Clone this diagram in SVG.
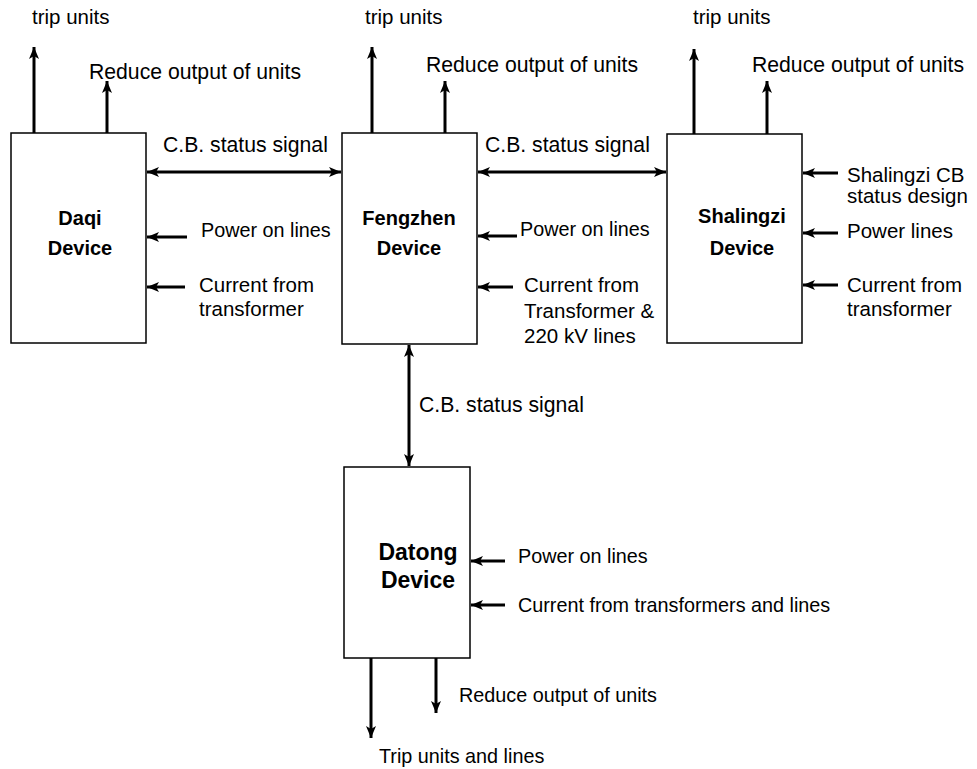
<svg xmlns="http://www.w3.org/2000/svg" width="977" height="769" viewBox="0 0 977 769">
  <style>
    .box { fill: #fff; stroke: #000; stroke-width: 1.5; }
    .wire { stroke: #000; stroke-width: 3; fill: none; }
    .lbl { font-family: "Liberation Sans", Arial, sans-serif; font-size: 20.5px; fill: #000; }
    .lg { font-size: 21.2px; }
    .sm { font-size: 19.8px; }
    .name { font-family: "Liberation Sans", Arial, sans-serif; font-size: 20px; font-weight: bold; fill: #000; text-anchor: middle; }
    .big { font-size: 23px; }
  </style>
  <defs>
    <marker id="head" viewBox="0 0 12 10" markerWidth="12" markerHeight="10" refX="12" refY="5" orient="auto-start-reverse" markerUnits="userSpaceOnUse">
      <path d="M0,0 L12,5 L0,10 L3,5 z" fill="#000"/>
    </marker>
  </defs>
  <rect width="977" height="769" fill="#fff"/>

  <!-- Daqi -->
  <g id="daqi">
    <rect class="box" x="11" y="133" width="135" height="210"/>
    <text class="name" x="80" y="225">Daqi</text>
    <text class="name" x="80" y="255">Device</text>
  </g>

  <!-- Fengzhen -->
  <g id="fengzhen">
    <rect class="box" x="342" y="133" width="135" height="211"/>
    <text class="name" x="409" y="225">Fengzhen</text>
    <text class="name" x="409" y="255">Device</text>
  </g>

  <!-- Shalingzi -->
  <g id="shalingzi">
    <rect class="box" x="667" y="134" width="135" height="209"/>
    <text class="name" x="742" y="223">Shalingzi</text>
    <text class="name" x="742" y="255">Device</text>
  </g>

  <!-- Datong -->
  <g id="datong">
    <rect class="box" x="344" y="467" width="126" height="191"/>
    <text class="name big" x="418" y="560">Datong</text>
    <text class="name big" x="418" y="588">Device</text>
  </g>

  <!-- connectors -->
  <g id="connectors" class="wire">
    <!-- Daqi outputs and inputs -->
    <line x1="34" y1="133" x2="34" y2="47" marker-end="url(#head)"/>
    <line x1="107" y1="133" x2="107" y2="81" marker-end="url(#head)"/>
    <line x1="187" y1="237" x2="147" y2="237" marker-end="url(#head)"/>
    <line x1="185" y1="287" x2="147" y2="287" marker-end="url(#head)"/>
    <!-- Daqi to Fengzhen -->
    <line x1="147" y1="172" x2="341" y2="172" marker-start="url(#head)" marker-end="url(#head)"/>
    <!-- Fengzhen outputs and inputs -->
    <line x1="372" y1="133" x2="372" y2="47" marker-end="url(#head)"/>
    <line x1="445" y1="133" x2="445" y2="81" marker-end="url(#head)"/>
    <line x1="517" y1="236" x2="478" y2="236" marker-end="url(#head)"/>
    <line x1="513" y1="287" x2="478" y2="287" marker-end="url(#head)"/>
    <!-- Fengzhen to Shalingzi -->
    <line x1="478" y1="172" x2="666" y2="172" marker-start="url(#head)" marker-end="url(#head)"/>
    <!-- Shalingzi outputs and inputs -->
    <line x1="694" y1="134" x2="694" y2="49" marker-end="url(#head)"/>
    <line x1="767" y1="134" x2="767" y2="81" marker-end="url(#head)"/>
    <line x1="838" y1="173" x2="803" y2="173" marker-end="url(#head)"/>
    <line x1="838" y1="233" x2="803" y2="233" marker-end="url(#head)"/>
    <line x1="838" y1="285" x2="803" y2="285" marker-end="url(#head)"/>
    <!-- Fengzhen to Datong -->
    <line x1="409" y1="345" x2="409" y2="466" marker-start="url(#head)" marker-end="url(#head)"/>
    <!-- Datong inputs and outputs -->
    <line x1="505" y1="561" x2="471" y2="561" marker-end="url(#head)"/>
    <line x1="505" y1="605" x2="471" y2="605" marker-end="url(#head)"/>
    <line x1="371" y1="658" x2="371" y2="738" marker-end="url(#head)"/>
    <line x1="436" y1="658" x2="436" y2="713" marker-end="url(#head)"/>
  </g>

  <!-- signal labels -->
  <g id="labels">
    <text class="lbl" x="32" y="24">trip units</text>
    <text class="lbl lg" x="89" y="79">Reduce output of units</text>
    <text class="lbl lg" x="163" y="152">C.B. status signal</text>
    <text class="lbl sm" x="201" y="237">Power on lines</text>
    <text class="lbl" x="199" y="292">Current from</text>
    <text class="lbl" x="199" y="316">transformer</text>

    <text class="lbl" x="365" y="24">trip units</text>
    <text class="lbl lg" x="426" y="72">Reduce output of units</text>
    <text class="lbl lg" x="485" y="152">C.B. status signal</text>
    <text class="lbl sm" x="520" y="236">Power on lines</text>
    <text class="lbl" x="524" y="292">Current from</text>
    <text class="lbl" x="524" y="318">Transformer &amp;</text>
    <text class="lbl" x="524" y="343">220 kV lines</text>

    <text class="lbl" x="693" y="24">trip units</text>
    <text class="lbl lg" x="752" y="72">Reduce output of units</text>
    <text class="lbl" x="847" y="182">Shalingzi CB</text>
    <text class="lbl" x="847" y="203">status design</text>
    <text class="lbl" x="847" y="238">Power lines</text>
    <text class="lbl" x="847" y="292">Current from</text>
    <text class="lbl" x="847" y="316">transformer</text>

    <text class="lbl lg" x="419" y="412">C.B. status signal</text>

    <text class="lbl sm" x="518" y="563">Power on lines</text>
    <text class="lbl sm" x="518" y="612">Current from transformers and lines</text>
    <text class="lbl sm" x="459" y="702">Reduce output of units</text>
    <text class="lbl sm" x="379" y="763">Trip units and lines</text>
  </g>
</svg>
